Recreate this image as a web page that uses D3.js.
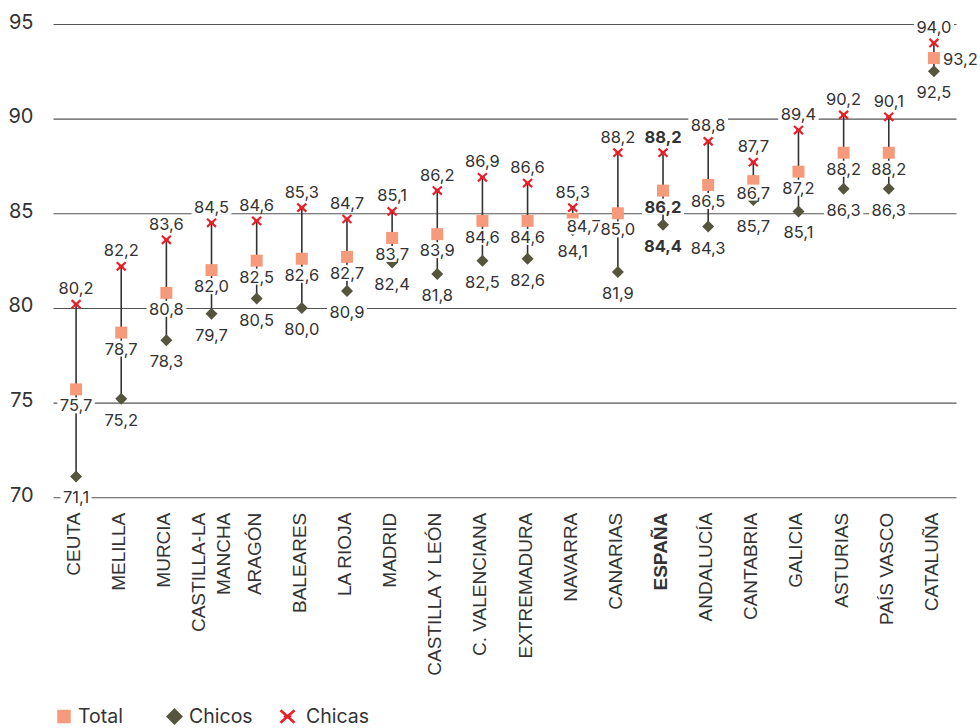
<!DOCTYPE html>
<html lang="es">
<head>
<meta charset="utf-8">
<title>Tasa por comunidad autónoma: total, chicos y chicas</title>
<script src="https://cdn.jsdelivr.net/npm/d3@7"></script>
<style>
  html, body { margin: 0; padding: 0; background: #fff; }
  svg { display: block; }
  .num { font-family: Inter, "Noto Sans", sans-serif; fill: #333; }
  .cat { font-family: "Liberation Sans", Arial, sans-serif; fill: #333; }
</style>
</head>
<body>
<svg id="chart" width="980" height="728"></svg>
<script>
// Comunidades ordenadas de menor a mayor valor total
const regions = [
  "CEUTA", "MELILLA", "MURCIA", "CASTILLA-LA MANCHA", "ARAGÓN", "BALEARES",
  "LA RIOJA", "MADRID", "CASTILLA Y LEÓN", "C. VALENCIANA", "EXTREMADURA",
  "NAVARRA", "CANARIAS", "ESPAÑA", "ANDALUCÍA", "CANTABRIA", "GALICIA",
  "ASTURIAS", "PAÍS VASCO", "CATALUÑA"
];
const totalValues  = [75.7, 78.7, 80.8, 82.0, 82.5, 82.6, 82.7, 83.7, 83.9, 84.6, 84.6, 84.7, 85.0, 86.2, 86.5, 86.7, 87.2, 88.2, 88.2, 93.2];
const chicosValues = [71.1, 75.2, 78.3, 79.7, 80.5, 80.0, 80.9, 82.4, 81.8, 82.5, 82.6, 84.1, 81.9, 84.4, 84.3, 85.7, 85.1, 86.3, 86.3, 92.5];
const chicasValues = [80.2, 82.2, 83.6, 84.5, 84.6, 85.3, 84.7, 85.1, 86.2, 86.9, 86.6, 85.3, 88.2, 88.2, 88.8, 87.7, 89.4, 90.2, 90.1, 94.0];
const yTickValues  = [70, 75, 80, 85, 90, 95];
const yDomain      = [70, 95];
const highlighted  = "ESPAÑA";
const legendItems  = ["Total", "Chicos", "Chicas"];

const colors = { total: "#F59B7B", chicos: "#55553E", chicas: "#E8202A", stem: "#333", grid: "#555", text: "#333" };

// Value labels that would collide are moved off their default spot
const labelNudges = {
  "NAVARRA|total":   { dx: 11, dy: 7.5 },
  "CATALUÑA|total":  { dx: 9, dy: 1, anchor: "start" },
  "CANTABRIA|total": { dy: 11.5 },
  "CANTABRIA|chicos": { dy: 26 }
};

const svg = d3.select("#chart");
const plotLeft = 53.5, plotRight = 956.5, plotTop = 24, plotBottom = 497.3;

const x = d3.scaleBand().domain(regions).range([plotLeft, plotRight]);
const y = d3.scaleLinear().domain(yDomain).range([plotBottom, plotTop]);
const cx = d => x(d) + x.bandwidth() / 2;

const locale = d3.formatLocale({ decimal: ",", thousands: ".", grouping: [3], currency: ["", " €"] });
const fmt = locale.format(".1f");

const rows = regions.map((r, i) => ({
  region: r, total: totalValues[i], chicos: chicosValues[i], chicas: chicasValues[i]
}));

// Horizontal gridlines and y tick labels
const yAxis = d3.axisLeft(y).tickValues(yTickValues).tickFormat(d3.format("d"))
  .tickSize(-(plotRight - plotLeft)).tickPadding(20);
const gy = svg.append("g").attr("transform", `translate(${plotLeft},0)`).call(yAxis);
gy.select(".domain").remove();
gy.selectAll(".tick line").attr("stroke", colors.grid).attr("stroke-width", 1.1);
gy.selectAll(".tick text")
  .attr("class", "num")
  .attr("font-size", 20)
  .attr("dy", null)
  .attr("y", 4)
  .attr("fill", colors.text);

// Category labels along the bottom, rotated
const catG = svg.append("g");
rows.forEach(d => {
  const t = catG.append("text")
    .attr("class", "cat")
    .attr("font-size", 19)
    .attr("font-weight", d.region === highlighted ? "bold" : "normal")
    .attr("text-anchor", "end")
    .attr("transform", `translate(${cx(d.region) + 4},512.7) rotate(-90)`);
  if (d.region.length > 16) {
    const cut = d.region.indexOf(" ");
    t.append("tspan").attr("x", 0).attr("y", -11).text(d.region.slice(0, cut));
    t.append("tspan").attr("x", 0).attr("y", 14).text(d.region.slice(cut + 1));
  } else {
    t.text(d.region);
  }
});

// Stems joining chicos and chicas
svg.append("g").selectAll("line").data(rows).join("line")
  .attr("x1", d => cx(d.region)).attr("x2", d => cx(d.region))
  .attr("y1", d => y(d.chicos)).attr("y2", d => y(d.chicas))
  .attr("stroke", colors.stem).attr("stroke-width", 1.6);

function drawDiamond(g, px, py, size) {
  g.append("path").attr("d", d3.symbol(d3.symbolSquare, size)())
    .attr("transform", `translate(${px},${py}) rotate(45)`)
    .attr("fill", colors.chicos);
}
function drawSquare(g, px, py, size) {
  g.append("path").attr("d", d3.symbol(d3.symbolSquare, size)())
    .attr("transform", `translate(${px},${py})`)
    .attr("fill", colors.total);
}
function drawCross(g, px, py, size, sw) {
  const w = Math.sqrt(size) / 2, h = w * 0.9;
  g.append("path")
    .attr("d", `M${-w},${-h}L${w},${h}M${-w},${h}L${w},${-h}`)
    .attr("transform", `translate(${px},${py})`)
    .attr("fill", "none").attr("stroke", colors.chicas)
    .attr("stroke-width", sw).attr("stroke-linecap", "butt");
  g.append("path")
    .attr("d", `M${-w * 0.55},0L${w * 0.55},0`)
    .attr("transform", `translate(${px},${py})`)
    .attr("stroke", colors.chicas).attr("stroke-width", sw * 0.7);
}

const markG = svg.append("g");
rows.forEach(d => {
  drawDiamond(markG, cx(d.region), y(d.chicos), 72);
  drawSquare(markG, cx(d.region), y(d.total), 144);
  drawCross(markG, cx(d.region), y(d.chicas), 81, 2.2);
});

// Value labels with a white backing so they sit cleanly over lines
const fontSize = 16.5, capH = fontSize * 0.727;
const defaultOffset = { chicas: -16, total: 16, chicos: 21 };
const labelG = svg.append("g");
function addLabel(d, key) {
  const n = labelNudges[d.region + "|" + key] || {};
  const px = cx(d.region) + (n.dx || 0);
  const center = y(d[key]) + (n.dy !== undefined ? n.dy : defaultOffset[key]);
  const g = labelG.append("g");
  const rect = g.append("rect").attr("fill", "#fff");
  const t = g.append("text")
    .attr("class", "num")
    .attr("font-size", fontSize)
    .attr("font-weight", d.region === highlighted ? "bold" : "normal")
    .attr("text-anchor", n.anchor || "middle")
    .attr("x", px).attr("y", center + capH / 2)
    .text(fmt(d[key]));
  const bb = t.node().getBBox();
  rect.attr("x", bb.x - 2.5).attr("width", bb.width + 5)
    .attr("y", center - capH / 2 - 2).attr("height", capH + 4);
}
rows.forEach(d => { addLabel(d, "chicas"); addLabel(d, "total"); addLabel(d, "chicos"); });

// Legend
const legend = svg.append("g");
const legendY = 716.5;
drawSquare(legend, 64, legendY, 182);
legend.append("text").attr("class", "num").attr("font-size", 19.5)
  .attr("x", 78).attr("y", legendY + 6.5).text(legendItems[0]);
drawDiamond(legend, 174.5, legendY, 144);
legend.append("text").attr("class", "num").attr("font-size", 19.5)
  .attr("x", 189).attr("y", legendY + 6.5).text(legendItems[1]);
drawCross(legend, 287.5, legendY, 196, 2.6);
legend.append("text").attr("class", "num").attr("font-size", 19.5)
  .attr("x", 306).attr("y", legendY + 6.5).text(legendItems[2]);
</script>
</body>
</html>
